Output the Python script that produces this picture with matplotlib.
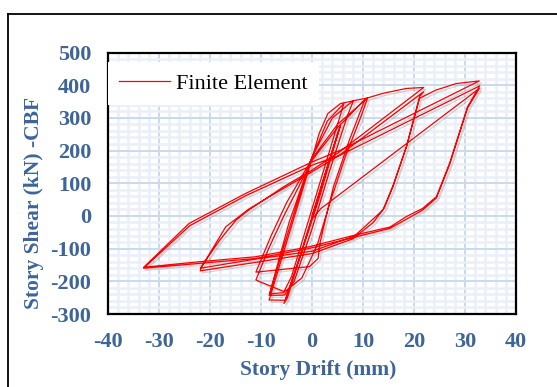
import numpy as np
import matplotlib
matplotlib.use("Agg")
import matplotlib.pyplot as plt
import matplotlib.patheffects as pe
from matplotlib.lines import Line2D
from matplotlib.ticker import MultipleLocator

plt.rcParams['font.family'] = ['Liberation Serif', 'DejaVu Serif']
plt.rcParams['axes.unicode_minus'] = False

# hysteresis path, stage by stage (drift mm, shear kN)
drift_5 = [0, 2.8, 5.6, 4.6, 1.5, -2, -5.5, -4.8, -1.5, 2, 5.3, 4.3, 1.0, -2.5, -5.2]
shear_5 = [0, 140, 278, 225, 60, -110, -268, -250, -80, 100, 265, 215, 40, -130, -258]

drift_8 = [-8.4, -4, 0, 1.4, 3.1, 5.6, 8.1, 6.8, 3.5, 0, -3.5, -5.4, -8.4,
           -4.5, -0.5, 3, 6.25, 5.3, 2.3, -1.2, -4, -5.6, -8.3]
shear_8 = [-257, -30, 175, 252, 313, 344, 352, 300, 140, -40, -200, -242, -243,
           -40, 160, 290, 344, 295, 140, -40, -185, -235, -238]

drift_11 = [-4.5, 0, 4, 8, 10.9, 9.5, 6.5, 3.5, 1, -2, -5.4, -11,
            -8.5, -5.6, 0, 5, 10.4, 7.3, 4.2, 2.5, 1.6, 1.2, -0.5, -11]
shear_11 = [-20, 180, 300, 352, 361, 300, 180, 40, -90, -190, -232, -196,
            -100, -3, 170, 270, 357, 231, 89, -20, -80, -130, -155, -172]

drift_22 = [-8, -5, 0, 5, 10.9, 13.9, 18.5, 21.9,
            5.4, 0, -5.6, -12.5, -14.9, -18.1, -21.9,
            -11.1, 0, 8.3, 11.8, 13.9, 15.8, 18.5, 21.1, 21.9,
            5.4, 0, -5.6, -12.3, -16.9, -21.8, -21.9,
            -11, 0, 8, 12, 14.2, 16, 18.6, 21.1]
shear_22 = [-60, 40, 175, 280, 361, 375, 390, 393,
            196, 140, 89, 17, -13, -74, -160,
            -132, -108, -62, -12, 18, 89, 212, 365, 380,
            186, 135, 84, 22, -33, -160, -168,
            -142, -115, -70, -20, 25, 95, 215, 360]

drift_33 = [24.3, 28.3, 32.8,
            5.4, 0, -13, -24.1, -33,
            -22, -11.1, -0.7, 8.3, 15.3, 18.5, 21.7, 24.4, 27, 30.5, 32.9,
            5.4, 0, -13, -24, -33,
            -22, -11, -0.7, 8.3, 15.3, 21.7, 24.4, 27, 30.5, 32.8,
            1.7, 0.3]
shear_33 = [385, 405, 413,
            200, 165, 69, -23, -157,
            -140, -125, -95, -59, -34, -2, 23, 59, 162, 334, 398,
            185, 155, 62, -30, -160,
            -145, -130, -100, -65, -38, 18, 55, 158, 330, 390,
            22, -5]

drift = np.concatenate([drift_5, drift_8, drift_11, drift_22, drift_33])
shear = np.concatenate([shear_5, shear_8, shear_11, shear_22, shear_33])

label_blue = '#3d6597'

fig = plt.figure(figsize=(5.57, 3.87), dpi=100)
ax = fig.add_axes([108 / 557, (387 - 314) / 387, 408 / 557, 261.5 / 387])

ax.plot(drift, shear, color='#ff0000', lw=0.9, label='Finite Element',
        path_effects=[pe.SimpleLineShadow(offset=(1.5, -1.5), shadow_color='#777777', alpha=0.3),
                      pe.Normal()])

ax.set_xlim(-40, 40)
ax.set_ylim(-300, 500)
ax.xaxis.set_major_locator(MultipleLocator(10))
ax.yaxis.set_major_locator(MultipleLocator(100))
ax.xaxis.set_minor_locator(MultipleLocator(2))
ax.yaxis.set_minor_locator(MultipleLocator(20))
ax.grid(which='minor', color='#eaf0f8', lw=1.8)
ax.grid(which='major', color='#c8dbef', lw=1.4)
ax.set_axisbelow(True)

for s in ax.spines.values():
    s.set_color('black')
    s.set_linewidth(1.6)

ax.tick_params(which='both', length=0)
ax.tick_params(axis='x', pad=13)
ax.tick_params(axis='y', pad=12)
for t in ax.get_xticklabels() + ax.get_yticklabels():
    t.set_fontsize(16)
    t.set_fontweight('bold')
    t.set_color(label_blue)

ax.set_xlabel('Story Drift (mm)', fontsize=15.5, fontweight='bold', color=label_blue)
ax.set_ylabel('Story Shear (kN) -CBF', fontsize=15.5, fontweight='bold', color=label_blue)
ax.xaxis.set_label_coords(0.515, -0.214)
ax.xaxis.label.set_verticalalignment('center')
ax.yaxis.set_label_coords(-0.181, 0.424)
ax.yaxis.label.set_verticalalignment('center')

leg = ax.legend(loc='upper left', bbox_to_anchor=(0.0, 0.962), borderaxespad=0,
                fontsize=16, frameon=True, fancybox=False, framealpha=1,
                handlelength=2.3, handletextpad=0.25, borderpad=0.5)
leg.get_frame().set_facecolor('white')
leg.get_frame().set_edgecolor('none')
for line in leg.get_lines():
    line.set_path_effects([])

# outer chart frame
fig.add_artist(Line2D([8 / 557, 1.0], [1 - 14 / 387, 1 - 14 / 387], color='black', lw=1.3))
fig.add_artist(Line2D([8 / 557, 8 / 557], [0.0, 1 - 14 / 387], color='black', lw=1.3))

fig.savefig('out.png', dpi=100)
